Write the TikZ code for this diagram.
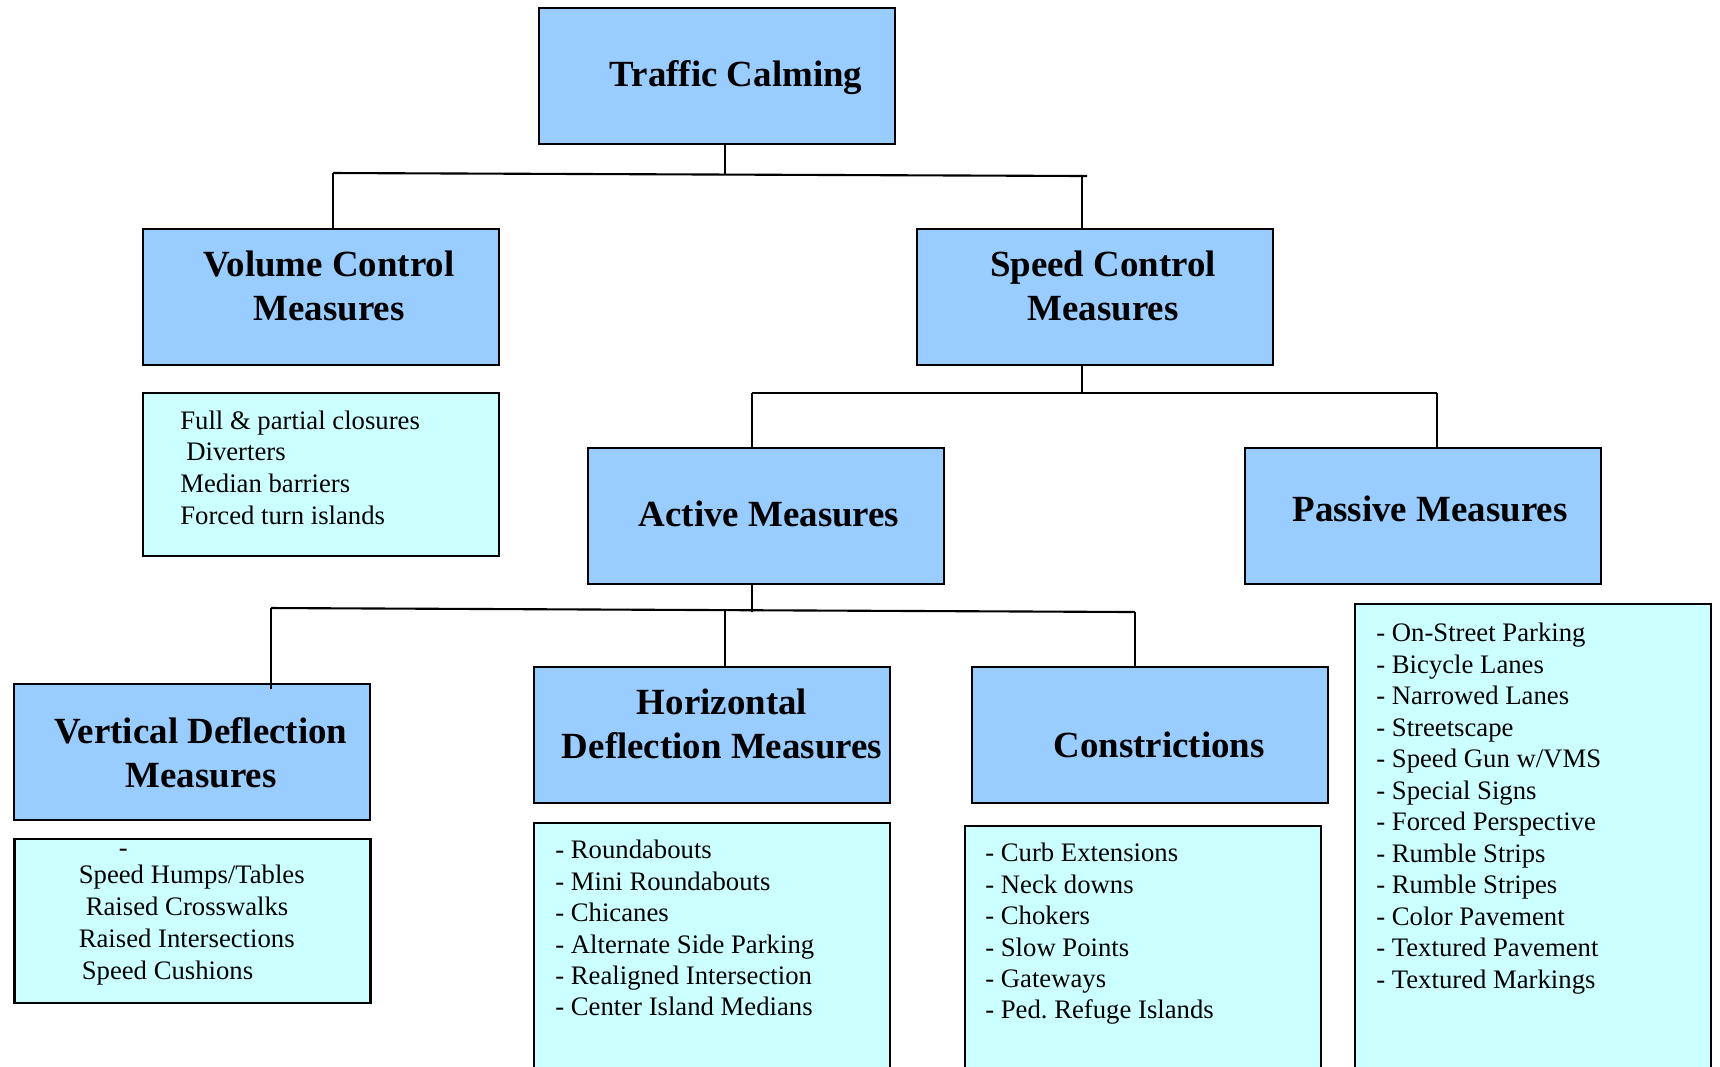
\documentclass[tikz,border=0pt]{standalone}
\usepackage{fontspec}
\setmainfont{Liberation Serif}
\usetikzlibrary{calc}
\definecolor{headblue}{HTML}{99CCFF}
\definecolor{listcyan}{HTML}{CCFFFF}
\newcommand{\headfont}{\fontsize{10.5}{12.5}\selectfont\bfseries}
\newcommand{\itemfont}{\fontsize{7.6}{9}\selectfont\frenchspacing}

\begin{document}
\begin{tikzpicture}[x=0.1mm, y=-0.1mm,
 box/.style={draw=black, line width=0.8pt, fill=headblue, minimum width=35.6mm, minimum height=13.6mm, inner sep=0},
 listbox/.style={draw=black, line width=0.8pt, fill=listcyan, minimum width=35.6mm, inner sep=0},
 head/.style={font=\headfont, align=center, inner sep=0},
 item/.style={font=\itemfont, anchor=west, inner sep=0, text height=5.3pt, text depth=1.5pt},
 link/.style={black, line width=0.6pt}]
\useasboundingbox (0,0) rectangle (1720,1066);

% header boxes
\node[box] (tc)  at (717,76)    {};
\node[box] (vc)  at (321,297)   {};
\node[box] (sc)  at (1095,297)  {};
\node[box] (am)  at (766,516)   {};
\node[box] (pm)  at (1423,516)  {};
\node[box] (vdm) at (192,752)   {};
\node[box] (hdm) at (712,735)   {};
\node[box] (con) at (1150,735)  {};

\node[head] (tct)  at ([shift={(19,2)}]tc)   {Traffic Calming};
\node[head] (vct)  at ([shift={(8,-11)}]vc)  {Volume Control\\Measures};
\node[head] (sct)  at ([shift={(8,-11)}]sc)  {Speed Control\\Measures};
\node[head] (amt)  at ([shift={(3,-2)}]am)   {Active Measures};
\node[head] (pmt)  at ([shift={(7,-7)}]pm)   {Passive Measures};
\node[head] (vdmt) at ([shift={(9,1)}]vdm)   {Vertical Deflection\\Measures};
\node[head] (hdmt) at ([shift={(10,-11)}]hdm) {Horizontal\\Deflection Measures};
\node[head] (cont) at ([shift={(9,10)}]con)  {Constrictions};

% list boxes
\node[listbox, minimum height=16.3mm] (vlist)   at (321,474.5)  {};
\node[listbox, minimum height=48.6mm] (plist)   at (1533,847)   {};
\node[listbox, minimum height=16.4mm] (vdlist)  at (192.5,921)  {};
\node[listbox, minimum height=26.7mm] (hdlist)  at (712,956.5)  {};
\node[listbox, minimum height=26.4mm] (conlist) at (1143,958)   {};

% list texts
\foreach \dx/\t [count=\i] in {38/Full \& partial closures, 44/Diverters, 38/Median barriers, 38/Forced turn islands}
 \node[item] (vl\i) at ($(vlist.north west)+(\dx,{31+(\i-1)*31.7})$) {\t};
\node[item] (vddash) at ($(vdlist.north west)+(105,12)$) {-};
\foreach \dx/\t [count=\i] in {65/{Speed Humps/Tables}, 72/Raised Crosswalks, 65/Raised Intersections, 68/Speed Cushions}
 \node[item] (vd\i) at ($(vdlist.north west)+(\dx,{39.5+(\i-1)*32})$) {\t};
\foreach \t [count=\i] in {Roundabouts, Mini Roundabouts, Chicanes, Alternate Side Parking, Realigned Intersection, Center Island Medians}
 \node[item] (hd\i) at ($(hdlist.north west)+(22,{30.5+(\i-1)*31.4})$) {- \t};
\foreach \t [count=\i] in {Curb Extensions, Neck downs, Chokers, Slow Points, Gateways, Ped. Refuge Islands}
 \node[item] (cn\i) at ($(conlist.north west)+(21,{30.5+(\i-1)*31.4})$) {- \t};
\foreach \t [count=\i] in {On-Street Parking, Bicycle Lanes, Narrowed Lanes, Streetscape, Speed Gun w/VMS, Special Signs, Forced Perspective, Rumble Strips, Rumble Stripes, Color Pavement, Textured Pavement, Textured Markings}
 \node[item] (pl\i) at ($(plist.north west)+(22,{32.5+(\i-1)*31.5})$) {- \t};

% connectors
\coordinate (k1)  at (725,174);
\coordinate (k1a) at (333,173);
\coordinate (k1b) at (1082,175.5);
\coordinate (k1c) at (1087,176);
\draw[link] (tc.south -| k1) -- (k1);
\draw[link] (k1a) -- (k1c);
\draw[link] (k1a) -- (k1a |- vc.north);
\draw[link] (k1b) -- (k1b |- sc.north);

\coordinate (k2)  at (1082,393);
\coordinate (k2a) at (752,393);
\coordinate (k2b) at (1437,393);
\draw[link] (sc.south -| k2) -- (k2);
\draw[link] (k2a) -- (k2b);
\draw[link] (k2a) -- (k2a |- am.north);
\draw[link] (k2b) -- (k2b |- pm.north);

\coordinate (k3)  at (752,612);
\coordinate (k3a) at (271,608);
\coordinate (k3b) at (725,610);
\coordinate (k3c) at (1135,612);
\draw[link] (am.south -| k3) -- (k3);
\draw[link] (k3a) -- (k3c);
\draw[link] (k3a) -- (271,689);
\draw[link] (k3b) -- (k3b |- hdm.north);
\draw[link] (k3c) -- (k3c |- con.north);
\end{tikzpicture}
\end{document}
